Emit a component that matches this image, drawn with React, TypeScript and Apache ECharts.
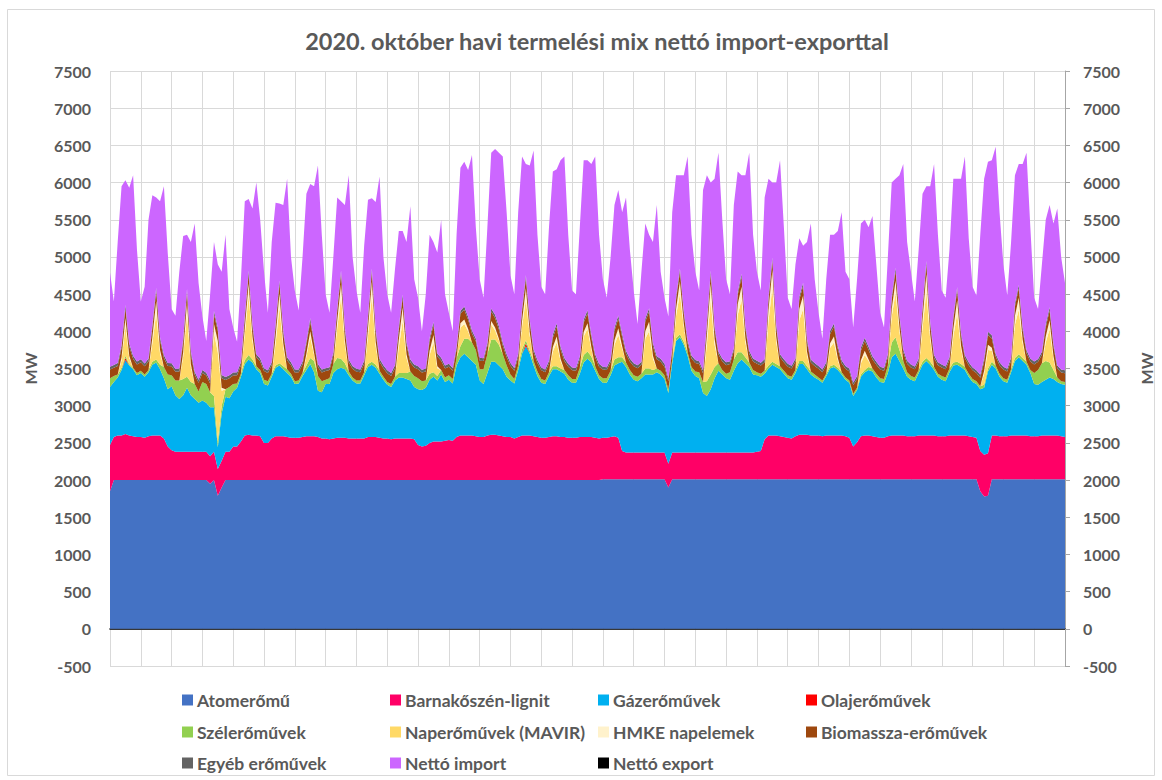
import React, { useEffect, useRef } from "react";
import * as echarts from "echarts";

// 3-hourly samples per day (00,03,06,09,12,15,18,21), 31 days of October 2020 + closing point
const hourLabels = ["00:00", "03:00", "06:00", "09:00", "12:00", "15:00", "18:00", "21:00"];
const dayLabels = Array.from({ length: 31 }, (_, i) => `10.${String(i + 1).padStart(2, "0")}.`);
const categories = [...dayLabels.flatMap((d) => hourLabels.map((h) => `${d} ${h}`)), "11.01. 00:00"];

const yTicks = { min: -500, max: 7500, interval: 500 };

const atom = [
  1850, 2000, 2000, 2000, 2000, 2000, 2000, 2000,
  2000, 2000, 2000, 2000, 2000, 2000, 2000, 2000,
  2000, 2000, 2000, 2000, 2000, 2000, 2000, 2000,
  2000, 2000, 1950, 2000, 1790, 1900, 2000, 2000,
  2000, 2000, 2000, 2000, 2000, 2000, 2000, 2000,
  2000, 2000, 2000, 2000, 2000, 2000, 2000, 2000,
  2000, 2000, 2000, 2000, 2000, 2000, 2000, 2000,
  2000, 2000, 2000, 2000, 2000, 2000, 2000, 2000,
  2000, 2000, 2000, 2000, 2000, 2000, 2000, 2000,
  2000, 2000, 2000, 2000, 2000, 2000, 2000, 2000,
  2000, 2000, 2000, 2000, 2000, 2000, 2000, 2000,
  2000, 2000, 2000, 2000, 2000, 2000, 2000, 2000,
  2000, 2000, 2000, 2000, 2000, 2000, 2000, 2000,
  2000, 2000, 2000, 2000, 2000, 2000, 2000, 2000,
  2000, 2000, 2000, 2000, 2000, 2000, 2000, 2000,
  2000, 2000, 2000, 2000, 2000, 2000, 2000, 2000,
  2010, 2010, 2010, 2010, 2010, 2010, 2010, 2010,
  2010, 2010, 2010, 2010, 2010, 2010, 2010, 2010,
  2010, 1900, 2010, 2010, 2010, 2010, 2010, 2010,
  2010, 2010, 2010, 2010, 2010, 2010, 2010, 2010,
  2010, 2010, 2010, 2010, 2010, 2010, 2010, 2010,
  2010, 2010, 2010, 2010, 2010, 2010, 2010, 2010,
  2010, 2010, 2010, 2010, 2010, 2010, 2010, 2010,
  2010, 2010, 2010, 2010, 2010, 2010, 2010, 2010,
  2010, 2010, 2010, 2010, 2010, 2010, 2010, 2010,
  2010, 2010, 2010, 2010, 2010, 2010, 2010, 2010,
  2010, 2010, 2010, 2010, 2010, 2010, 2010, 2010,
  2010, 2010, 2010, 2010, 2010, 2010, 2010, 2010,
  2010, 2010, 1850, 1780, 1790, 2010, 2010, 2010,
  2010, 2010, 2010, 2010, 2010, 2010, 2010, 2010,
  2010, 2010, 2010, 2010, 2010, 2010, 2010, 2010,
  2010,
];

const lignit = [
  620, 580, 600, 600, 620, 600, 590, 580,
  580, 570, 590, 600, 600, 600, 560, 450,
  400, 380, 380, 380, 380, 380, 380, 380,
  380, 380, 370, 380, 360, 360, 380, 380,
  450, 450, 520, 600, 610, 600, 600, 590,
  500, 500, 560, 590, 590, 590, 580, 570,
  570, 570, 580, 590, 590, 590, 580, 560,
  560, 550, 560, 570, 570, 570, 560, 560,
  560, 560, 560, 580, 580, 580, 570, 560,
  560, 550, 560, 560, 560, 560, 560, 550,
  470, 450, 460, 500, 520, 520, 520, 530,
  540, 530, 580, 600, 600, 600, 600, 590,
  580, 580, 600, 610, 610, 600, 590, 580,
  580, 560, 580, 600, 600, 600, 590, 580,
  570, 570, 580, 590, 590, 580, 580, 570,
  570, 570, 580, 580, 580, 580, 570, 560,
  560, 560, 570, 580, 560, 380, 360, 360,
  360, 360, 360, 360, 360, 360, 360, 360,
  360, 320, 360, 360, 360, 360, 360, 360,
  360, 360, 360, 360, 360, 360, 360, 360,
  360, 360, 360, 360, 360, 360, 360, 360,
  370, 380, 540, 590, 590, 590, 580, 570,
  560, 550, 580, 600, 600, 600, 590, 590,
  590, 580, 590, 590, 590, 590, 590, 580,
  560, 440, 500, 580, 590, 590, 580, 570,
  560, 560, 580, 590, 590, 590, 590, 580,
  580, 580, 590, 590, 590, 590, 590, 580,
  580, 580, 590, 590, 590, 590, 590, 580,
  570, 560, 540, 560, 570, 590, 590, 580,
  580, 580, 590, 590, 590, 590, 590, 580,
  580, 580, 590, 590, 590, 590, 590, 580,
  570,
];

const gaz = [
  780, 740, 780, 880, 990, 940, 900, 830,
  860, 820, 860, 950, 980, 890, 810, 770,
  860, 760, 710, 760, 860, 760, 710, 660,
  690, 660, 660, 600, 290, 640, 740, 720,
  740, 790, 870, 960, 1010, 980, 890, 850,
  790, 770, 830, 920, 950, 900, 860, 820,
  720, 730, 820, 890, 970, 860, 620, 620,
  730, 740, 880, 920, 940, 920, 850, 780,
  740, 740, 850, 940, 970, 930, 860, 790,
  720, 700, 780, 820, 820, 800, 780, 700,
  750, 760, 780, 850, 870, 820, 900, 790,
  810, 770, 960, 1050, 1100, 1050, 1000, 960,
  760, 710, 840, 980, 980, 940, 900, 810,
  760, 740, 900, 1100, 1200, 1100, 950, 820,
  740, 720, 820, 900, 900, 880, 850, 780,
  740, 740, 850, 1000, 1050, 1000, 900, 800,
  740, 740, 830, 950, 1000, 1200, 1150, 1050,
  980, 960, 1000, 1050, 1050, 1050, 1080, 1050,
  990, 950, 1200, 1500, 1550, 1450, 1300, 1100,
  1030, 1000, 800, 760, 850, 1000, 1100, 1050,
  1000, 980, 1100, 1200, 1250, 1200, 1150, 1050,
  1030, 1000, 880, 900, 950, 920, 900, 850,
  800, 790, 850, 950, 950, 880, 820, 780,
  750, 720, 800, 900, 920, 880, 820, 760,
  740, 680, 700, 800, 850, 880, 870, 800,
  750, 740, 850, 1050, 1100, 1000, 900, 800,
  760, 740, 840, 950, 1000, 950, 880, 800,
  760, 740, 850, 940, 950, 920, 880, 800,
  740, 720, 830, 900, 1100, 950, 900, 800,
  740, 720, 850, 1000, 1050, 1000, 950, 850,
  700, 690, 720, 750, 780, 760, 720, 700,
  700,
];

const olaj = [
  0, 0, 0, 0, 30, 0, 0, 0,
  0, 0, 0, 0, 0, 0, 0, 0,
  0, 0, 0, 0, 0, 0, 0, 0,
  0, 0, 0, 0, 0, 0, 0, 0,
  0, 0, 0, 0, 0, 0, 0, 0,
  0, 0, 0, 0, 0, 0, 0, 0,
  0, 0, 0, 0, 0, 0, 0, 0,
  0, 0, 0, 0, 0, 0, 0, 0,
  0, 0, 0, 0, 0, 0, 0, 0,
  0, 0, 0, 0, 0, 0, 0, 0,
  0, 0, 0, 0, 0, 0, 0, 0,
  0, 0, 0, 0, 0, 0, 0, 0,
  0, 0, 0, 0, 0, 0, 0, 0,
  0, 0, 0, 0, 40, 0, 0, 0,
  0, 0, 0, 0, 0, 0, 0, 0,
  0, 0, 0, 0, 0, 0, 0, 0,
  0, 0, 0, 0, 0, 0, 0, 0,
  0, 0, 0, 0, 0, 0, 0, 0,
  0, 0, 0, 0, 0, 0, 0, 0,
  0, 0, 0, 0, 0, 0, 0, 0,
  0, 0, 0, 0, 0, 0, 0, 0,
  0, 0, 0, 0, 0, 0, 0, 0,
  0, 0, 0, 0, 0, 0, 0, 0,
  0, 0, 0, 0, 0, 0, 0, 0,
  0, 0, 0, 0, 0, 0, 0, 0,
  0, 0, 0, 0, 0, 0, 0, 0,
  0, 0, 0, 0, 0, 0, 0, 0,
  0, 0, 0, 0, 0, 0, 0, 0,
  0, 0, 0, 0, 0, 0, 0, 0,
  0, 0, 0, 0, 0, 0, 0, 0,
  0, 0, 0, 0, 0, 0, 0, 0,
  0,
];

const szel = [
  120, 80, 40, 30, 30, 20, 20, 30,
  30, 30, 30, 40, 40, 60, 150, 200,
  150, 200, 250, 220, 150, 180, 200, 150,
  250, 250, 200, 150, 80, 100, 100, 150,
  100, 60, 40, 50, 60, 40, 40, 40,
  60, 60, 40, 30, 30, 40, 50, 40,
  40, 40, 40, 60, 80, 150, 200, 150,
  60, 80, 120, 150, 120, 80, 50, 40,
  40, 40, 40, 40, 40, 40, 40, 40,
  40, 40, 50, 60, 60, 80, 120, 150,
  150, 120, 100, 80, 60, 60, 60, 60,
  60, 60, 100, 150, 200, 250, 250, 200,
  150, 200, 250, 300, 300, 280, 200, 150,
  80, 60, 60, 60, 40, 40, 60, 60,
  50, 50, 50, 40, 40, 40, 50, 60,
  50, 50, 80, 100, 100, 80, 60, 50,
  60, 60, 60, 80, 80, 60, 60, 60,
  60, 60, 60, 80, 80, 60, 50, 50,
  50, 50, 50, 40, 40, 40, 50, 50,
  60, 80, 150, 200, 200, 150, 100, 60,
  60, 100, 150, 150, 100, 80, 60, 60,
  40, 40, 40, 40, 40, 40, 40, 40,
  40, 40, 40, 40, 40, 40, 40, 40,
  30, 30, 30, 30, 30, 30, 30, 30,
  30, 30, 30, 30, 30, 40, 40, 50,
  50, 50, 100, 200, 220, 150, 100, 60,
  50, 50, 40, 40, 40, 40, 40, 40,
  50, 50, 50, 40, 40, 40, 40, 40,
  40, 40, 40, 40, 40, 40, 40, 40,
  40, 40, 40, 40, 40, 40, 40, 40,
  150, 200, 250, 250, 200, 120, 60, 40,
  40,
];

const napMavir = [
  0, 0, 0, 100, 400, 80, 0, 0,
  0, 0, 0, 250, 620, 150, 0, 0,
  0, 0, 0, 300, 850, 200, 0, 0,
  0, 0, 0, 850, 1200, 200, 0, 0,
  0, 0, 0, 350, 800, 250, 0, 0,
  0, 0, 0, 300, 750, 250, 0, 0,
  0, 0, 0, 120, 280, 80, 0, 0,
  0, 0, 0, 400, 830, 250, 0, 0,
  0, 0, 0, 380, 880, 250, 0, 0,
  0, 0, 0, 350, 700, 200, 0, 0,
  0, 0, 0, 250, 400, 100, 0, 0,
  0, 0, 0, 250, 200, 100, 0, 0,
  0, 0, 0, 200, 120, 60, 0, 0,
  0, 0, 0, 300, 550, 200, 0, 0,
  0, 0, 0, 200, 320, 100, 0, 0,
  0, 0, 0, 250, 300, 100, 0, 0,
  0, 0, 0, 200, 300, 120, 0, 0,
  0, 0, 0, 400, 500, 150, 0, 0,
  0, 0, 0, 300, 550, 200, 0, 0,
  0, 0, 0, 500, 1000, 300, 0, 0,
  0, 0, 0, 500, 700, 200, 0, 0,
  0, 0, 0, 600, 1000, 300, 0, 0,
  0, 0, 0, 550, 700, 150, 0, 0,
  0, 0, 0, 250, 300, 100, 0, 0,
  0, 0, 0, 150, 200, 80, 0, 0,
  0, 0, 0, 350, 600, 250, 0, 0,
  0, 0, 0, 450, 900, 300, 0, 0,
  0, 0, 0, 350, 650, 200, 0, 0,
  0, 0, 0, 150, 250, 150, 0, 0,
  0, 0, 0, 450, 600, 200, 0, 0,
  0, 0, 0, 250, 450, 150, 0, 0,
  0,
];

const hmke = [
  0, 0, 0, 40, 110, 30, 0, 0,
  0, 0, 0, 80, 170, 50, 0, 0,
  0, 0, 0, 60, 150, 40, 0, 0,
  0, 0, 0, 120, 150, 40, 0, 0,
  0, 0, 0, 80, 160, 60, 0, 0,
  0, 0, 0, 90, 190, 60, 0, 0,
  0, 0, 0, 40, 80, 30, 0, 0,
  0, 0, 0, 100, 180, 60, 0, 0,
  0, 0, 0, 100, 200, 60, 0, 0,
  0, 0, 0, 100, 180, 50, 0, 0,
  0, 0, 0, 60, 100, 30, 0, 0,
  0, 0, 0, 60, 60, 30, 0, 0,
  0, 0, 0, 50, 40, 20, 0, 0,
  0, 0, 0, 80, 150, 50, 0, 0,
  0, 0, 0, 60, 80, 30, 0, 0,
  0, 0, 0, 60, 80, 30, 0, 0,
  0, 0, 0, 60, 90, 30, 0, 0,
  0, 0, 0, 100, 130, 40, 0, 0,
  0, 0, 0, 90, 160, 50, 0, 0,
  0, 0, 0, 120, 220, 80, 0, 0,
  0, 0, 0, 140, 180, 60, 0, 0,
  0, 0, 0, 150, 230, 70, 0, 0,
  0, 0, 0, 150, 180, 50, 0, 0,
  0, 0, 0, 60, 80, 30, 0, 0,
  0, 0, 0, 40, 60, 20, 0, 0,
  0, 0, 0, 100, 160, 60, 0, 0,
  0, 0, 0, 120, 230, 70, 0, 0,
  0, 0, 0, 100, 180, 50, 0, 0,
  0, 0, 0, 40, 70, 40, 0, 0,
  0, 0, 0, 120, 160, 50, 0, 0,
  0, 0, 0, 80, 120, 40, 0, 0,
  0,
];

const biomassza = [
  115, 110, 115, 125, 130, 125, 120, 115,
  115, 110, 115, 125, 130, 125, 120, 115,
  120, 115, 120, 130, 135, 130, 125, 120,
  120, 115, 120, 130, 135, 130, 125, 120,
  115, 110, 115, 125, 130, 125, 120, 115,
  115, 110, 115, 125, 130, 125, 120, 115,
  115, 110, 115, 125, 130, 125, 120, 115,
  115, 110, 115, 125, 130, 125, 120, 115,
  115, 110, 115, 125, 130, 125, 120, 115,
  115, 110, 115, 125, 130, 125, 120, 115,
  120, 115, 120, 130, 130, 130, 125, 120,
  115, 110, 115, 125, 130, 125, 120, 115,
  115, 110, 115, 125, 130, 125, 120, 115,
  115, 110, 115, 125, 130, 125, 120, 115,
  115, 110, 115, 125, 130, 125, 120, 115,
  115, 110, 115, 125, 130, 125, 120, 115,
  115, 110, 115, 125, 130, 125, 120, 115,
  120, 115, 120, 130, 135, 130, 125, 120,
  115, 110, 115, 125, 130, 125, 120, 115,
  115, 110, 115, 125, 130, 125, 120, 115,
  115, 110, 115, 125, 130, 125, 120, 115,
  115, 110, 115, 125, 130, 125, 120, 115,
  115, 110, 115, 125, 130, 125, 120, 115,
  115, 110, 115, 125, 130, 125, 120, 115,
  120, 115, 120, 130, 130, 130, 125, 120,
  115, 110, 115, 125, 130, 125, 120, 115,
  115, 110, 115, 125, 130, 125, 120, 115,
  115, 110, 115, 125, 130, 125, 120, 115,
  115, 110, 115, 125, 130, 125, 120, 115,
  115, 110, 115, 125, 130, 125, 120, 115,
  115, 110, 115, 125, 130, 125, 120, 115,
  115,
];

const egyeb = [
  40, 38, 40, 42, 44, 42, 40, 40,
  40, 38, 40, 42, 44, 42, 40, 40,
  40, 38, 40, 42, 44, 42, 40, 40,
  40, 38, 40, 42, 44, 42, 40, 40,
  40, 38, 40, 42, 44, 42, 40, 40,
  40, 38, 40, 42, 44, 42, 40, 40,
  40, 38, 40, 42, 44, 42, 40, 40,
  40, 38, 40, 42, 44, 42, 40, 40,
  40, 38, 40, 42, 44, 42, 40, 40,
  40, 38, 40, 42, 44, 42, 40, 40,
  40, 38, 40, 42, 44, 42, 40, 40,
  40, 38, 40, 42, 44, 42, 40, 40,
  40, 38, 40, 42, 44, 42, 40, 40,
  40, 38, 40, 42, 44, 42, 40, 40,
  40, 38, 40, 42, 44, 42, 40, 40,
  40, 38, 40, 42, 44, 42, 40, 40,
  40, 38, 40, 42, 44, 42, 40, 40,
  40, 38, 40, 42, 44, 42, 40, 40,
  40, 38, 40, 42, 44, 42, 40, 40,
  40, 38, 40, 42, 44, 42, 40, 40,
  40, 38, 40, 42, 44, 42, 40, 40,
  40, 38, 40, 42, 44, 42, 40, 40,
  40, 38, 40, 42, 44, 42, 40, 40,
  40, 38, 40, 42, 44, 42, 40, 40,
  40, 38, 40, 42, 44, 42, 40, 40,
  40, 38, 40, 42, 44, 42, 40, 40,
  40, 38, 40, 42, 44, 42, 40, 40,
  40, 38, 40, 42, 44, 42, 40, 40,
  40, 38, 40, 42, 44, 42, 40, 40,
  40, 38, 40, 42, 44, 42, 40, 40,
  40, 38, 40, 42, 44, 42, 40, 40,
  40,
];

// Top envelope of the stack (domestic generation + net import)
const osszesTerheles = [
  4790, 4400, 5200, 5950, 6030, 5930, 6100, 5100,
  4400, 4600, 5500, 5830, 5800, 5750, 5950, 5050,
  4300, 4210, 4800, 5280, 5300, 5200, 5450, 4650,
  4200, 3870, 4500, 5200, 4900, 4800, 5300, 4300,
  4050, 3860, 4700, 5750, 5780, 5650, 6000, 5500,
  4800, 4250, 5200, 5730, 5720, 5700, 6050, 5000,
  4550, 4280, 5000, 5850, 5980, 5950, 6230, 5300,
  4500, 4250, 5000, 5800, 5750, 5700, 6100, 5000,
  4550, 4250, 5150, 5770, 5790, 5740, 6080, 5000,
  4500, 4250, 4830, 5350, 5350, 5200, 5680, 4700,
  4450, 4000, 4500, 5300, 5200, 5060, 5500, 4500,
  4250, 4000, 5300, 6200, 6280, 6170, 6370, 5400,
  4700, 4450, 5400, 6400, 6450, 6400, 6350, 5600,
  4750, 4500, 5600, 6350, 6250, 6230, 6430, 5300,
  4600, 4500, 5400, 6150, 6180, 6300, 6350, 5300,
  4550, 4500, 5400, 6300, 6300, 6250, 6350, 5300,
  4700, 4450, 5000, 5700, 5900, 5600, 5800, 5100,
  4550, 4100, 4800, 5450, 5300, 5200, 5700, 4800,
  4450, 4200, 5600, 6100, 6100, 6100, 6350, 5300,
  4800, 4550, 5900, 6100, 6000, 6050, 6400, 5500,
  4700, 4500, 5700, 6150, 6100, 6100, 6400, 5300,
  4800, 4550, 5800, 6050, 6000, 6000, 6300, 5400,
  4450, 4300, 4900, 5250, 5150, 5200, 5450, 4700,
  4250, 3900, 4700, 5300, 5300, 5350, 5600, 4800,
  4700, 4050, 4700, 5450, 5500, 5400, 5550, 4900,
  4250, 4050, 5000, 6000, 6050, 6100, 6250, 5200,
  4800, 4400, 5100, 5850, 5950, 5950, 6250, 5300,
  4550, 4450, 5100, 6050, 6050, 6050, 6350, 5250,
  4600, 4480, 5300, 6050, 6280, 6300, 6480, 5600,
  4900, 4480, 5200, 6100, 6250, 6250, 6400, 5400,
  4450, 4300, 4900, 5500, 5700, 5450, 5650, 5000,
  4650,
];

const generation = [atom, lignit, gaz, olaj, szel, napMavir, hmke, biomassza, egyeb];
const nettoImport = osszesTerheles.map((t, i) =>
  Math.max(0, t - generation.reduce((s, arr) => s + arr[i], 0))
);
const nettoExport: number[] = [];

const seriesDefs = [
  { name: "Atomerőmű", color: "#4472C4", data: atom },
  { name: "Barnakőszén-lignit", color: "#FF0066", data: lignit },
  { name: "Gázerőművek", color: "#00B0F0", data: gaz },
  { name: "Olajerőművek", color: "#FF0000", data: olaj },
  { name: "Szélerőművek", color: "#92D050", data: szel },
  { name: "Naperőművek (MAVIR)", color: "#FFD966", data: napMavir },
  { name: "HMKE napelemek", color: "#FFF2CC", data: hmke },
  { name: "Biomassza-erőművek", color: "#9E480E", data: biomassza },
  { name: "Egyéb erőművek", color: "#636363", data: egyeb },
  { name: "Nettó import", color: "#CC66FF", data: nettoImport },
  { name: "Nettó export", color: "#000000", data: nettoExport },
];

const legendPos = [
  [182, 701], [390, 701], [598, 701], [806, 701],
  [182, 733], [390, 733], [598, 733], [806, 733],
  [182, 764], [390, 764], [598, 764],
];

const FONT = "Lato, 'Noto Sans', sans-serif";
const GRAY = "#595959";

export default function App() {
  const ref = useRef<HTMLDivElement>(null);
  useEffect(() => {
    if (!ref.current) return;
    const chart = echarts.init(ref.current, undefined, { renderer: "svg" });
    const axisLabel = {
      color: GRAY,
      fontSize: 16,
      fontWeight: "bold",
      fontFamily: FONT,
      formatter: (v: number) => String(v),
    };
    const nameStyle = { color: GRAY, fontSize: 16, fontWeight: "bold", fontFamily: FONT };
    chart.setOption({
      animation: false,
      backgroundColor: "#ffffff",
      textStyle: { fontFamily: FONT },
      title: {
        text: "2020. október havi termelési mix nettó import-exporttal",
        left: 592,
        textAlign: "center",
        top: 24,
        textStyle: { color: GRAY, fontSize: 23.5, fontWeight: "bold", fontFamily: FONT },
      },
      graphic: [
        {
          type: "rect",
          shape: { x: 7.5, y: 9.5, width: 1147, height: 766 },
          style: { fill: "none", stroke: "#D9D9D9", lineWidth: 1 },
          silent: true,
        },
      ],
      legend: seriesDefs.map((s, i) => ({
        data: [s.name],
        left: legendPos[i][0],
        top: legendPos[i][1] - 10,
        padding: 0,
        icon: "rect",
        itemWidth: 11,
        itemHeight: 11,
        selectedMode: false,
        textStyle: { color: GRAY, fontSize: 17.5, fontWeight: "bold", fontFamily: FONT, padding: [0, 0, 0, -1] },
      })),
      grid: { left: 110, right: 87, top: 71, bottom: 114, containLabel: false },
      xAxis: {
        type: "category",
        data: categories,
        boundaryGap: false,
        axisLine: { show: true, onZero: true, lineStyle: { color: "#000000", width: 1.5 } },
        axisTick: { show: false },
        axisLabel: { show: false },
        splitLine: {
          show: true,
          interval: (idx: number) => idx % 8 === 0,
          lineStyle: { color: "#D9D9D9", width: 1 },
        },
      },
      yAxis: [
        {
          type: "value",
          ...yTicks,
          position: "left",
          name: "MW",
          nameLocation: "middle",
          nameGap: 72,
          nameRotate: 90,
          nameMoveOverlap: false,
          nameTextStyle: nameStyle,
          axisLine: { show: false },
          axisTick: { show: false },
          axisLabel: { ...axisLabel, margin: 19 },
          splitLine: { show: true, lineStyle: { color: "#D9D9D9", width: 1 } },
        },
        {
          type: "value",
          ...yTicks,
          position: "right",
          name: "MW",
          nameLocation: "middle",
          nameGap: 73,
          nameRotate: 90,
          nameMoveOverlap: false,
          nameTextStyle: nameStyle,
          axisLine: { show: true, lineStyle: { color: "#A6A6A6", width: 1 } },
          axisTick: { show: true, length: 5, lineStyle: { color: "#A6A6A6" } },
          axisLabel: { ...axisLabel, margin: 18 },
          splitLine: { show: false },
        },
      ],
      series: seriesDefs.map((s) => ({
        name: s.name,
        type: "line",
        stack: "mix",
        data: s.data,
        symbol: "none",
        showSymbol: false,
        silent: true,
        lineStyle: { width: 0, color: s.color },
        itemStyle: { color: s.color },
        areaStyle: { color: s.color, opacity: 1 },
        emphasis: { disabled: true },
      })),
    });
    return () => chart.dispose();
  }, []);
  return (
    <div
      ref={ref}
      style={{ position: "absolute", left: 0, top: 0, width: 1162, height: 780, background: "#fff" }}
    />
  );
}
